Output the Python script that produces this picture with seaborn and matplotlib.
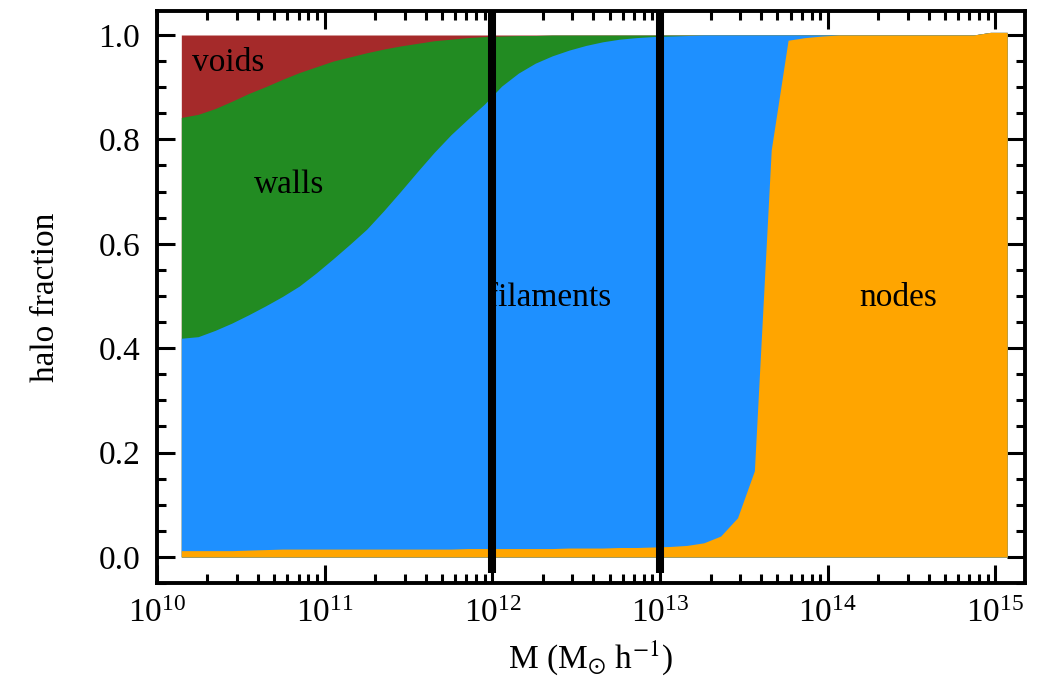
import numpy as np
import pandas as pd
import matplotlib
matplotlib.use("Agg")
import matplotlib.pyplot as plt
import matplotlib.ticker as mticker
import seaborn as sns

# ---------------- data ----------------
log_mass = np.linspace(10.145, 15.07, 50)  # log10 M bin centres

nodes = [0.012, 0.012, 0.012, 0.012, 0.013, 0.014, 0.015, 0.015, 0.015, 0.015,
         0.015, 0.015, 0.015, 0.015, 0.015, 0.015, 0.015, 0.016, 0.016, 0.016,
         0.016, 0.016, 0.016, 0.017, 0.017, 0.017, 0.018, 0.018, 0.019, 0.020,
         0.022, 0.027, 0.040, 0.075, 0.165, 0.780, 0.990, 0.995, 0.998, 1.0,
         1.0, 1.0, 1.0, 1.0, 1.0, 1.0, 1.0, 1.0, 1.005, 1.005]
filaments = [0.407, 0.410, 0.422, 0.436, 0.451, 0.467, 0.484, 0.504, 0.529, 0.556,
             0.584, 0.613, 0.648, 0.685, 0.723, 0.760, 0.794, 0.823, 0.852, 0.886,
             0.911, 0.930, 0.944, 0.954, 0.963, 0.970, 0.974, 0.977, 0.978, 0.978,
             0.977, 0.973, 0.960, 0.925, 0.835, 0.220, 0.010, 0.005, 0.002, 0.0,
             0.0, 0.0, 0.0, 0.0, 0.0, 0.0, 0.0, 0.0, 0.0, 0.0]
walls = [0.423, 0.426, 0.425, 0.425, 0.424, 0.420, 0.416, 0.409, 0.395, 0.379,
         0.359, 0.338, 0.310, 0.279, 0.246, 0.214, 0.183, 0.156, 0.129, 0.096,
         0.072, 0.053, 0.040, 0.029, 0.020, 0.013, 0.008, 0.005, 0.003, 0.002,
         0.001, 0.0, 0.0, 0.0, 0.0, 0.0, 0.0, 0.0, 0.0, 0.0,
         0.0, 0.0, 0.0, 0.0, 0.0, 0.0, 0.0, 0.0, 0.0, 0.0]
voids = [0.158, 0.152, 0.141, 0.127, 0.112, 0.099, 0.085, 0.072, 0.061, 0.050,
         0.042, 0.034, 0.027, 0.021, 0.016, 0.011, 0.008, 0.005, 0.003, 0.002,
         0.001, 0.001, 0.0, 0.0, 0.0, 0.0, 0.0, 0.0, 0.0, 0.0,
         0.0, 0.0, 0.0, 0.0, 0.0, 0.0, 0.0, 0.0, 0.0, 0.0,
         0.0, 0.0, 0.0, 0.0, 0.0, 0.0, 0.0, 0.0, 0.0, 0.0]

environments = ["nodes", "filaments", "walls", "voids"]
env_colors = ["#FFA500", "#1E90FF", "#228B22", "#A52A2A"]
separators = [1e12, 1e13]
y_ticks = [0.0, 0.2, 0.4, 0.6, 0.8, 1.0]

df = pd.DataFrame({"M": 10 ** log_mass, "nodes": nodes, "filaments": filaments,
                   "walls": walls, "voids": voids})
cum = df[environments].cumsum(axis=1)

# ---------------- style ----------------
sns.set_theme(style="ticks")
plt.rcParams["font.family"] = ["Liberation Serif", "DejaVu Serif"]
plt.rcParams["mathtext.fontset"] = "stix"
plt.rcParams["font.size"] = 24
plt.rcParams["text.color"] = "black"
plt.rcParams["axes.labelcolor"] = "black"

FS = 24
fig = plt.figure(figsize=(10.44, 6.86), dpi=100)
ax = fig.add_axes([157 / 1044, 1 - 583 / 686, (1025 - 157) / 1044, (583 - 11) / 686])

# stacked areas: draw each cumulative layer from 0, top layer first (no seams)
for env, col in reversed(list(zip(environments, env_colors))):
    ax.fill_between(df["M"], 0, cum[env], color=col, linewidth=0)

ax.vlines(separators, -0.031, 1.046, colors="black", linewidth=5.8, zorder=3)

ax.set_xscale("log")
ax.set_xlim(1e10, 1.5e15)
ax.set_ylim(-0.05, 1.046)

ax.set_yticks(y_ticks)
ax.yaxis.set_major_formatter(mticker.FormatStrFormatter("%.1f"))
ax.yaxis.set_minor_locator(mticker.MultipleLocator(0.05))
ax.xaxis.set_major_locator(mticker.LogLocator(base=10, numticks=10))
ax.xaxis.set_minor_locator(mticker.LogLocator(base=10, subs=np.arange(2, 10), numticks=20))
ax.xaxis.set_minor_formatter(mticker.NullFormatter())

for s in ax.spines.values():
    s.set_linewidth(2.8)
    s.set_color("black")
ax.tick_params(which="both", direction="in", top=True, right=True, width=2.2,
               color="black", labelsize=FS, labelcolor="black")
ax.tick_params(which="major", length=13)
ax.tick_params(which="minor", length=6.5)
ax.tick_params(axis="x", which="major", pad=11)
ax.tick_params(axis="y", which="major", pad=12)

ax.set_xlabel(r"M (M$_{\odot}$ h$^{-1}$)", fontsize=FS, labelpad=7)
ax.set_ylabel("halo fraction", fontsize=FS, labelpad=27)

ax.text(10 ** 10.427, 0.931, "voids", ha="center", va="baseline", fontsize=FS)
ax.text(10 ** 10.79, 0.698, "walls", ha="center", va="baseline", fontsize=FS)
ax.text(10 ** 12.338, 0.481, "filaments", ha="center", va="baseline", fontsize=FS)
ax.text(10 ** 14.419, 0.481, "nodes", ha="center", va="baseline", fontsize=FS)

fig.savefig("out.png", dpi=100)
